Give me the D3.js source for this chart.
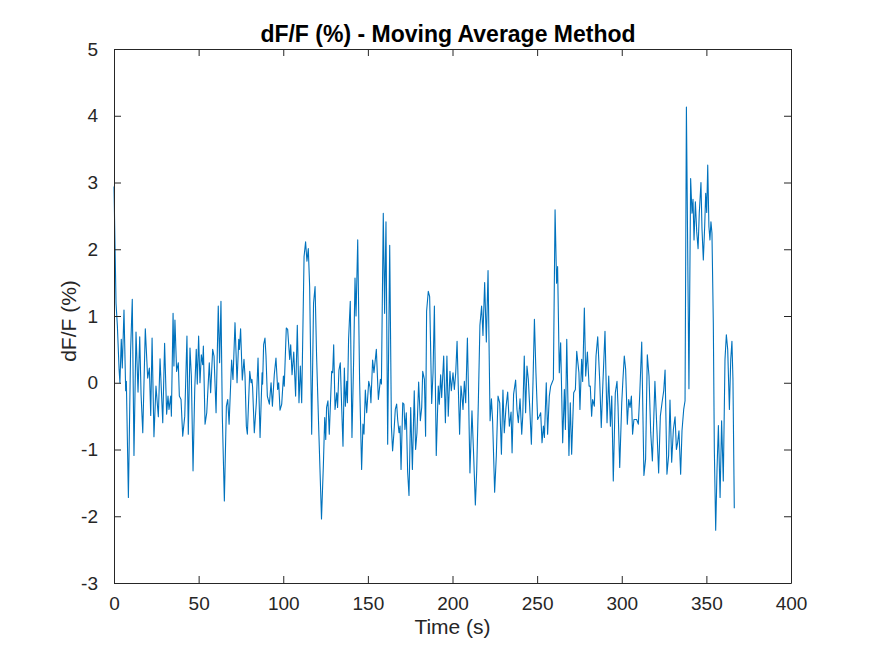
<!DOCTYPE html>
<html>
<head>
<meta charset="utf-8">
<script src="https://cdn.jsdelivr.net/npm/d3@7"></script>
<style>
	body { margin: 0; background: #fff; }
	text { font-family: "Liberation Sans", Arial, Helvetica, sans-serif; }
</style>
</head>
<body>
<div class="graph-box"></div>
<script>
// time points (s)
var timeSec = [0, 1.2, 2, 3, 3.5, 4.3, 4.9, 5.9, 6.9, 7.3, 8.5, 9.8, 10.8, 11.8, 13, 14.2, 15.2, 16, 17, 18.5,
	19.9, 20.9, 21.7, 22.5, 23.6, 24.8, 26.2, 27.2, 28.8, 29.9, 31.1, 31.9, 32.5, 33.5, 33.9, 34.9, 35.4, 36, 37, 38,
	38.6, 39.6, 40.6, 41.8, 43.1, 43.9, 44.9, 45.7, 46.7, 47.7, 48.6, 49.2, 50, 50.8, 51.6, 52.4, 52.8, 53.8, 54.8, 56.3,
	57.1, 58.3, 59.1, 60.3, 61.6, 62.4, 63.2, 64, 65.2, 66.4, 67.2, 68, 69.5, 70.3, 71.5, 72.7, 73.7, 74.1, 74.8, 75.8,
	76.8, 77.4, 78.2, 78.8, 80.2, 81, 81.5, 81.9, 82.9, 84.1, 85.1, 86.3, 87.5, 87.8, 88.4, 89.2, 89.8, 90.6, 91.8, 92.8,
	93.6, 94.7, 95.7, 96.7, 97.3, 98.1, 99.1, 100.1, 100.6, 101.8, 102.6, 103.8, 104.4, 105.2, 106.2, 107.3, 108.3, 109.3, 110.1, 110.9,
	112.3, 113.2, 114, 114.8, 115.6, 116.8, 117.9, 118.8, 119.7, 121.1, 122.6, 123.7, 124.5, 125.1, 125.6, 126.4, 127.2, 128.6, 129.2, 129.8,
	130.6, 131.6, 132.1, 132.9, 133.7, 134.5, 135.3, 136.1, 136.7, 137.5, 137.9, 138.6, 139.6, 140.6, 141.6, 142.4, 143, 144, 145.1, 146.3,
	147.1, 147.7, 148.5, 149.3, 150.5, 151.3, 151.8, 152.8, 153.6, 155, 156.2, 157.4, 158, 159.1, 159.9, 160.7, 161.7, 162.9, 163.9, 164.6,
	165.4, 166.2, 167, 167.6, 168.4, 169, 169.6, 170.6, 171.3, 171.9, 172.7, 173.5, 174.3, 175.3, 176.3, 177.4, 178.2, 179, 180, 181,
	181.8, 182.4, 183.4, 184.1, 184.7, 185.7, 186.5, 187.7, 188.5, 189.3, 190.4, 191.6, 192.2, 193, 193.6, 194.8, 195.8, 196.7, 197.5, 198.5,
	199.3, 200.3, 201.1, 201.9, 202.7, 203.4, 204.2, 205, 205.6, 206.2, 207, 207.8, 208.8, 209.5, 210.3, 211.5, 212.5, 213.5, 214.3, 215.3,
	216.2, 217.2, 218, 219, 220, 221, 222.2, 223, 223.7, 224.9, 225.9, 226.9, 227.9, 228.9, 229.8, 230.6, 231.6, 232.6, 233.6, 234.6,
	235.2, 236.1, 237.3, 238.1, 238.9, 239.9, 240.9, 241.5, 242.4, 243.2, 244, 244.8, 245.6, 246.6, 247.6, 248.4, 249.3, 250.3, 251.3, 252.1,
	252.9, 253.7, 254.3, 255.4, 256.2, 257.2, 258, 258.8, 259.6, 260.6, 261.5, 262.1, 263.1, 263.9, 265.1, 266.1, 266.7, 267.5, 268.8, 269.6,
	270.4, 271.6, 272.6, 273.4, 274, 274.7, 275.3, 276.3, 276.9, 277.9, 278.7, 279.7, 280.7, 281.4, 282.2, 282.8, 283.8, 284.8, 285.8, 287,
	287.9, 288.9, 290.1, 291.3, 292.3, 293.3, 294.1, 295, 296.2, 297.2, 297.8, 298.8, 300, 300.7, 301.5, 302.3, 303.3, 304.1, 304.9, 305.7,
	306.4, 307.2, 308.8, 309.8, 310.6, 311.8, 313.1, 314.1, 315.1, 316.1, 317.1, 318.1, 318.9, 319.6, 320.8, 321.8, 322.8, 323.8, 324.8, 325.6,
	326.7, 327.7, 328.5, 329.5, 330.5, 331.5, 332.3, 333, 333.8, 334.8, 335.6, 336.6, 337.4, 338.2, 339.7, 340.7, 341.5, 342.1, 342.7, 343.5,
	344.3, 345.1, 345.8, 346.8, 347.4, 348.2, 349, 349.6, 350.2, 350.8, 351.5, 352.1, 352.7, 353.3, 354.1, 354.7, 355.5, 356.3, 357.1, 358.1,
	359, 360, 361, 361.8, 362.6, 363.6, 364.4, 365.1, 365.7, 366.5];

// dF/F (%) at those time points
var dff = [2.94, 1.19, 0.85, 0.2, 0, 0.65, 0.22, 1.09, -0.12, 0.02, -1.72, 0.47, 1.25, -1.09, 0.76, -0.14, 0.69, -0.18, -0.75, 0.81,
	0.07, 0.22, -0.49, 0.67, -0.81, -0.05, -0.51, 0.36, -0.6, 0.59, -0.47, -0.2, -0.4, -0.2, -0.5, 1.04, 0.25, 0.94, 0.17, 0.3,
	-0.2, -0.25, -0.8, -0.5, 0.7, -0.77, 0.52, 0.1, -1.32, -0.1, 0.5, -0.02, 0.7, 0, 0.42, 0.27, 0.55, -0.62, -0.45, 0.3,
	-0.15, 0.5, 0.4, -0.45, 1.15, 0.3, 1.22, -0.5, -1.77, -0.35, -0.25, -0.62, 0.34, 0.05, 0.9, 0, 0.65, 0.5, 0.81, 0.04,
	0.35, 0.1, -0.65, -0.77, 0.17, 0, 0.05, -0.07, -0.75, -0.3, 0.37, -0.82, 0.15, -0.02, 0.57, 0.67, 0.4, -0.2, -0.32, 0,
	-0.35, 0.12, 0.37, -0.1, 0, -0.41, -0.32, 0.1, -0.05, 0.82, 0.8, 0.35, 0.57, 0.12, 0.46, -0.2, 0.86, -0.3, 0.25, -0.3,
	1.89, 2.11, 1.82, 2.01, 1.44, -0.77, 1.19, 1.44, 0.4, -0.8, -2.04, -1.24, -0.52, -0.85, -0.37, -0.27, -0.77, 0.17, 0.15, 0.57,
	-0.4, -0.15, -0.37, 0.19, 0.3, -0.35, -0.95, 0.22, -0.35, 0.02, -0.3, 0.65, 1.22, -0.82, 0.35, 1.57, 1.0, 2.14, 0.05, -1.3,
	-0.62, -0.77, -0.11, -0.45, 0.02, -0.07, -0.3, 0.34, 0.15, 0.5, -0.25, 0.05, -0.02, 2.54, 1.04, 2.41, -0.92, 2.06, -0.65, -1.02,
	-0.75, -0.4, -0.32, -0.55, -0.75, -0.65, -1.3, -0.3, -0.32, -0.7, -0.45, -1.34, -1.69, -0.37, -1.3, -0.12, -1.0, -0.75, 0.01, -0.57,
	-0.37, 0.17, 0.05, -0.8, 1.07, 1.37, 1.29, -0.31, 0.15, 1.15, -1.09, -0.05, -0.32, 0.12, -0.22, 0.4, -0.6, 0.4, -0.5, 0.17,
	-0.12, 0.15, -0.1, 0.15, 0.62, -0.05, -0.77, -0.05, -0.2, -0.4, 0.02, -0.3, 0.67, -0.2, -1.35, -0.42, -1.09, -1.83, -1.32, -0.25,
	0.86, 1.15, 0.71, 1.5, 0.61, 1.68, -0.57, -0.24, -0.57, -1.64, -1.09, -0.2, -0.3, -1.07, -0.11, -0.75, -0.37, -0.14, -0.65, -0.44,
	-1.05, -0.17, 0.04, -0.4, -0.6, -0.24, -0.77, -0.5, 0.4, -0.45, 0.25, 0.05, -0.35, -0.92, 0.05, 0.95, 0.15, -0.55, -0.5, -0.45,
	-0.9, -0.65, -0.82, 0, -0.77, -0.2, -0.05, 0, 0.05, 2.59, 1.49, 1.74, 0.15, 0.6, -0.9, -0.1, -0.7, 0.65, -1.09, -0.3,
	-1.07, -0.15, -0.1, 0.47, 0.32, 0.15, -0.4, 0.35, 0.02, 1.12, 0.1, 0.46, -0.05, -0.05, -0.5, -0.25, -0.35, 0.4, 0.69, 0.02,
	-0.67, 0.02, 0.77, -0.6, 0.1, -0.65, -0.2, -1.47, -0.15, 0.02, -0.35, -1.27, -0.3, 0.05, 0.4, 0.2, -0.62, -0.25, -0.37, -0.2,
	-0.77, -0.55, -0.55, -0.62, -0.19, 0.61, -1.39, -1.14, 0.42, 0.1, -0.74, -1.17, -0.55, 0.02, -0.72, -1.35, -0.5, -0.3, -0.12, 0.19,
	-1.37, -1.09, -0.26, -1.19, -0.7, -0.51, -1.0, -0.9, -0.72, -1.37, -0.72, -0.4, -0.27, 4.13, -0.09, 3.06, 2.54, 2.75, 2.14, 2.71,
	2.26, 2.01, 2.54, 3.0, 2.31, 1.84, 2.34, 2.84, 2.55, 3.26, 2.34, 2.14, 2.41, 2.24, 0.9, -1.0, -2.21, -1.29, -0.64, -1.72,
	-0.57, -1.47, 0.35, 0.72, 0.5, -0.4, 0.35, 0.62, 0.05, -1.88];

var xTicks = [0, 50, 100, 150, 200, 250, 300, 350, 400];
var yTicks = [-3, -2, -1, 0, 1, 2, 3, 4, 5];

var titleText = "dF/F (%) - Moving Average Method";
var xLabel = "Time (s)";
var yLabel = "dF/F (%)";

drawChart();

function drawChart() {
	var width = 875, height = 656;
	var margin = {top: 49, right: 84, bottom: 73, left: 114};
	var w = width - margin.left - margin.right;
	var h = height - margin.top - margin.bottom;
	var axisColor = "#262626";
	// plain hyphen for negatives, like matlab
	var fmt = function(d) { return String(d); };

	var svg = d3.select(".graph-box")
			.append("svg")
			.attr("width", width)
			.attr("height", height);

	var g = svg.append("g")
			.attr("transform", "translate(" + margin.left + "," + margin.top + ")");

	var x = d3.scaleLinear().domain([0, 400]).range([0, w]);
	var y = d3.scaleLinear().domain([-3, 5]).range([h, 0]);

	// the trace
	var points = timeSec.map(function(t, i) { return [t, dff[i]]; });
	var line = d3.line()
			.x(function(d) { return x(d[0]); })
			.y(function(d) { return y(d[1]); });
	g.append("path")
			.datum(points)
			.attr("fill", "none")
			.attr("stroke", "#0072BD")
			.attr("stroke-width", 1.1)
			.attr("stroke-linejoin", "round")
			.attr("d", line);

	// matlab style box: ticks inside on all four sides
	var tickLen = 7;
	var bottom = g.append("g").attr("transform", "translate(0," + h + ")")
			.call(d3.axisBottom(x).tickValues(xTicks).tickFormat(fmt).tickSizeInner(-tickLen).tickSizeOuter(0).tickPadding(14));
	var left = g.append("g")
			.call(d3.axisLeft(y).tickValues(yTicks).tickFormat(fmt).tickSizeInner(-tickLen).tickSizeOuter(0).tickPadding(16));
	g.append("g")
			.call(d3.axisTop(x).tickValues(xTicks).tickSizeInner(-tickLen).tickSizeOuter(0).tickFormat(""));
	g.append("g").attr("transform", "translate(" + w + ",0)")
			.call(d3.axisRight(y).tickValues(yTicks).tickSizeInner(-tickLen).tickSizeOuter(0).tickFormat(""));

	svg.selectAll(".domain, .tick line")
			.attr("stroke", axisColor)
			.attr("stroke-width", 1);
	svg.selectAll(".tick text")
			.attr("fill", axisColor)
			.style("font-family", "'Liberation Sans', Arial, sans-serif")
			.style("font-size", "19px");

	// title and labels
	svg.append("text")
			.attr("x", 448)
			.attr("y", 42)
			.attr("text-anchor", "middle")
			.attr("font-weight", "bold")
			.attr("font-size", "23px")
			.attr("fill", "#000")
			.text(titleText);

	svg.append("text")
			.attr("x", margin.left + w / 2)
			.attr("y", 634)
			.attr("text-anchor", "middle")
			.attr("font-size", "21px")
			.attr("fill", axisColor)
			.text(xLabel);

	svg.append("text")
			.attr("transform", "translate(76," + (margin.top + h / 2 + 5) + ") rotate(-90)")
			.attr("text-anchor", "middle")
			.attr("font-size", "21px")
			.attr("fill", axisColor)
			.text(yLabel);
}
</script>
</body>
</html>
